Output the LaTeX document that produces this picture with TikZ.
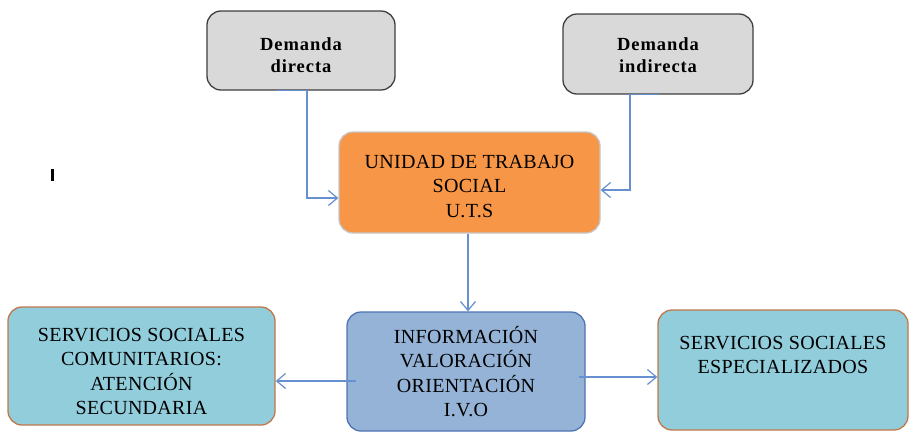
\documentclass[tikz,border=0pt]{standalone}
\usepackage{fontspec}
\setmainfont{Liberation Serif}
\newfontfamily\cajafont[LetterSpace=1.5]{Liberation Serif}
\newfontfamily\demandafont[LetterSpace=5]{Liberation Serif}
\usetikzlibrary{arrows.meta}
\definecolor{grisfondo}{HTML}{D9D9D9}
\definecolor{grisborde}{HTML}{3F3F3F}
\definecolor{naranja}{HTML}{F79646}
\definecolor{azulivo}{HTML}{95B3D7}
\definecolor{azulborde}{HTML}{4F74B3}
\definecolor{celeste}{HTML}{92CDDC}
\definecolor{marron}{HTML}{C0784A}
\definecolor{flecha}{HTML}{6690D0}
\tikzset{
  caja/.style={rounded corners=14pt,line width=1.3pt,align=center,
    font=\cajafont\fontsize{20}{24.5}\selectfont},
  demanda/.style={caja,fill=grisfondo,draw=grisborde,
    font=\demandafont\fontsize{18.5}{22}\selectfont\bfseries},
  enlace/.style={draw=flecha,line width=1.2pt,-{Straight Barb[length=9pt,width=15pt]}}
}
\begin{document}
\begin{tikzpicture}[x=1pt,y=-1pt]
		\useasboundingbox (0,0) rectangle (914,432);
		\node[demanda,minimum width=188pt,minimum height=79pt] (dir) at (301,50.5) {\rule{0pt}{22pt}Demanda\\directa};
		\node[demanda,minimum width=190pt,minimum height=80pt] (indir) at (658,54) {\rule{0pt}{16pt}Demanda\\indirecta};
		\node[caja,fill=naranja,draw=gray!45,minimum width=261pt,minimum height=101pt] (uts) at (469.5,182.5) {\rule{0pt}{21pt}UNIDAD DE TRABAJO\\SOCIAL\\U.T.S};
		\node[caja,fill=azulivo,draw=azulborde,minimum width=238pt,minimum height=119pt] (ivo) at (466,371.5) {INFORMACIÓN\\VALORACIÓN\\ORIENTACIÓN\\I.V.O};
		\node[caja,fill=celeste,draw=marron,minimum width=267pt,minimum height=118pt] (comun) at (141.5,366) {\rule{0pt}{24pt}SERVICIOS SOCIALES\\COMUNITARIOS:\\ATENCIÓN\\SECUNDARIA};
		\node[caja,fill=celeste,draw=marron,minimum width=250pt,minimum height=120pt] (espec) at (783,370) {SERVICIOS SOCIALES\\ESPECIALIZADOS\rule[-30pt]{0pt}{0pt}};
		% conectores
		\draw[enlace] ([xshift=-25pt]dir.south) -- ([xshift=6pt]dir.south) |- ([yshift=-15.5pt]uts.west);
		\draw[enlace] ([xshift=2pt]indir.south) -- ([xshift=-28pt]indir.south) |- ([yshift=-7.5pt]uts.east);
		\draw[enlace] ([xshift=-1.5pt]uts.south) -- ([xshift=-1.5pt]uts.south |- ivo.north);
		\coordinate (izq) at ([xshift=10pt,yshift=-9.5pt]ivo.west);
		\coordinate (der) at ([xshift=-7pt,yshift=-5.5pt]ivo.east);
		\draw[enlace] (izq) -- (izq -| comun.east);
		\draw[enlace] (der) -- (der -| espec.west);
		% marca suelta
		\fill (51,169) rectangle (54,181);
	\end{tikzpicture}
\end{document}
